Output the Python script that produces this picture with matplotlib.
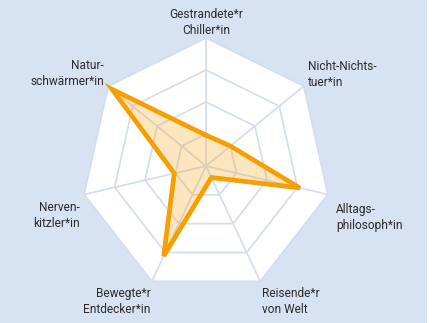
import numpy as np
import matplotlib.pyplot as plt
from matplotlib.patches import Rectangle

plt.rcParams['font.family'] = ['Roboto', 'DejaVu Sans']

# types, clockwise from the top
labels = [
    "Gestrandete*r\nChiller*in",
    "Nicht-Nichts-\ntuer*in",
    "Alltags-\nphilosoph*in",
    "Reisende*r\nvon Welt",
    "Bewegte*r\nEntdecker*in",
    "Nerven-\nkitzler*in",
    "Natur-\nschwärmer*in",
]
scores = [24, 25, 77, 10, 78, 26, 96]
rings = [25, 50, 75, 100]
r_max = 100

BG = "#d7e2f3"
GRID = "#d2ddf0"
ORANGE = "#f59f00"

fig = plt.figure(figsize=(4.47, 3.23), dpi=100)
fig.patch.set_facecolor("white")
fig.patches.append(Rectangle((0, 0), 427 / 447, 1, transform=fig.transFigure,
                             facecolor=BG, edgecolor="none", zorder=-10))

ax = fig.add_axes([0.1812, 0.0898, 0.5593, 0.7926], projection="polar")
ax.set_zorder(1)
ax.set_aspect("auto")
ax.set_theta_zero_location("N")
ax.set_theta_direction(-1)
ax.set_ylim(0, r_max)
ax.patch.set_alpha(0)
ax.spines["polar"].set_visible(False)
ax.grid(False)
ax.set_xticks([])
ax.set_yticks([])

n = len(labels)
theta = np.arange(n) * 2 * np.pi / n
closed = np.append(theta, theta[0])

# white heptagon background
ax.fill(closed, [r_max] * (n + 1), color="white", zorder=1, lw=0)

# web
for r in rings:
    ax.plot(closed, [r] * (n + 1), color=GRID, lw=1.2, zorder=2)
for t in theta:
    ax.plot([t, t], [0, r_max], color=GRID, lw=1.2, zorder=2)

vals = np.append(scores, scores[0])
ax.fill(closed, vals, color=ORANGE, alpha=0.25, lw=0, zorder=3)
ax.plot(closed, vals, color=ORANGE, lw=3.4, zorder=4,
        solid_joinstyle="miter", clip_on=False)

# label placement: (dx, dy) in points, ha, va
places = [
    ((0, 1), "center", "bottom"),
    ((3, -2), "left", "bottom"),
    ((6, -6), "left", "top"),
    ((1, -4), "left", "top"),
    ((-1, -4), "right", "top"),
    ((-3, -5), "right", "top"),
    ((-3, -1), "right", "bottom"),
]
for t, lab, (off, ha, va) in zip(theta, labels, places):
    ax.annotate(lab, xy=(t, r_max), xytext=off, textcoords="offset points",
                ha=ha, va=va, fontsize=8.6, color="#2b2b2b",
                multialignment=ha if ha != "center" else "center",
                linespacing=1.3, annotation_clip=False)

fig.savefig("out.png", dpi=100, facecolor=fig.get_facecolor())
